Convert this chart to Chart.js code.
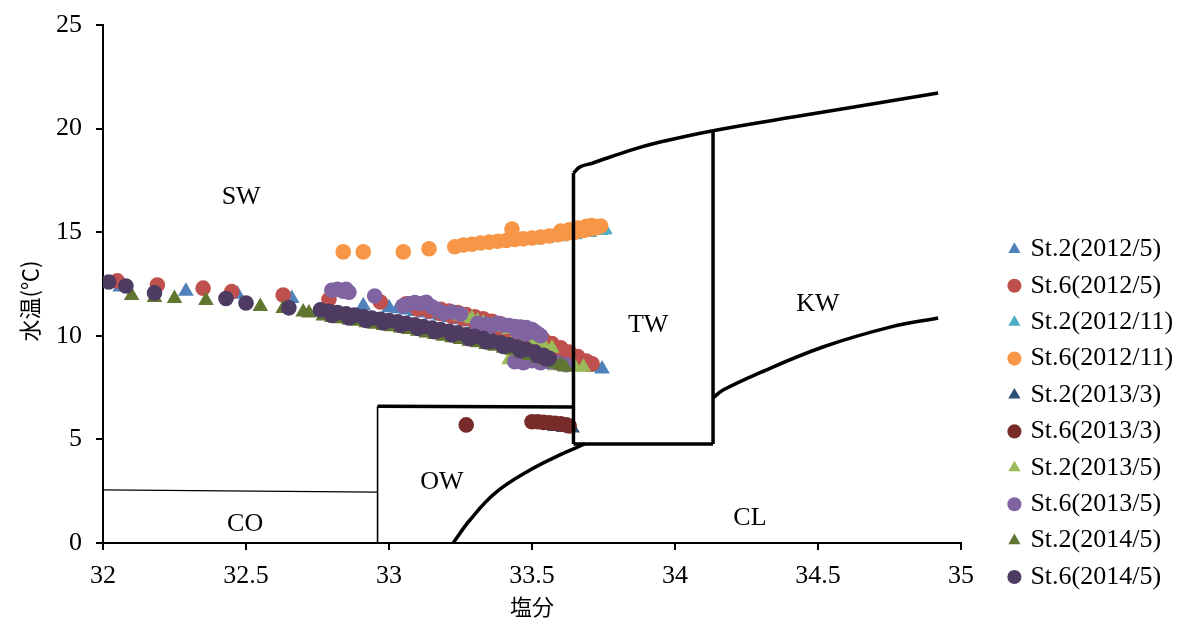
<!DOCTYPE html>
<html>
<head>
<meta charset="utf-8">
<script src="https://cdn.jsdelivr.net/npm/chart.js@4.4.1/dist/chart.umd.min.js"></script>
<style>
  html, body { margin: 0; padding: 0; background: #ffffff; }
  #wrap { width: 1188px; height: 626px; }
</style>
</head>
<body>
<div id="wrap"><canvas id="c" width="1188" height="626"></canvas></div>
<script>
// ---- Series (salinity / water temperature) ----
const seriesNames = [
  'St.2(2012/5)', 'St.6(2012/5)', 'St.2(2012/11)', 'St.6(2012/11)', 'St.2(2013/3)',
  'St.6(2013/3)', 'St.2(2013/5)', 'St.6(2013/5)', 'St.2(2014/5)', 'St.6(2014/5)'
];
const seriesColors = [
  '#4F81BD', '#C0504D', '#4BACC6', '#F79646', '#2C4D75',
  '#772C2A', '#9BBB59', '#8064A2', '#5F7530', '#4D3B62'
];
const seriesShapes = [
  'triangle', 'circle', 'triangle', 'circle', 'triangle',
  'circle', 'triangle', 'circle', 'triangle', 'circle'
];

const st2_2012_5_sal  = [32.06, 32.29, 32.47, 32.66, 32.91, 33.00, 33.03, 33.06, 33.09, 33.12, 33.15, 33.18, 33.21, 33.24, 33.27, 33.30, 33.33, 33.36, 33.39, 33.42, 33.45, 33.48, 33.51, 33.54, 33.57, 33.60, 33.63, 33.66, 33.69, 33.72, 33.745];
const st2_2012_5_temp = [12.35, 12.15, 12.00, 11.80, 11.45, 11.35, 11.30, 11.24, 11.17, 11.10, 11.02, 10.95, 10.87, 10.78, 10.68, 10.58, 10.46, 10.34, 10.20, 10.05, 9.90, 9.74, 9.57, 9.40, 9.22, 9.04, 8.88, 8.74, 8.60, 8.48, 8.40];

const st6_2012_5_sal  = [32.05, 32.19, 32.35, 32.45, 32.63, 32.79, 32.97,
                         33.06, 33.09, 33.12, 33.15, 33.18, 33.21, 33.24, 33.27, 33.30, 33.33, 33.36, 33.39, 33.42, 33.45, 33.48, 33.51, 33.54, 33.57, 33.60, 33.63, 33.66, 33.69, 33.71,
                         33.10, 33.14, 33.18, 33.22, 33.26, 33.30, 33.34, 33.38, 33.42, 33.46, 33.50, 33.54, 33.58, 33.62, 33.66, 33.70];
const st6_2012_5_temp = [12.65, 12.45, 12.30, 12.13, 11.97, 11.75, 11.63,
                         11.55, 11.50, 11.42, 11.35, 11.28, 11.20, 11.12, 11.02, 10.92, 10.82, 10.70, 10.58, 10.45, 10.30, 10.15, 10.00, 9.82, 9.62, 9.42, 9.22, 9.00, 8.78, 8.65,
                         11.30, 11.20, 11.08, 10.95, 10.82, 10.68, 10.52, 10.35, 10.18, 9.98, 9.78, 9.55, 9.30, 9.05, 8.82, 8.62];

const st2_2012_11_sal  = [33.45, 33.50, 33.55, 33.60, 33.65, 33.70, 33.74, 33.755];
const st2_2012_11_temp = [14.55, 14.62, 14.70, 14.78, 14.88, 14.98, 15.08, 15.12];

const st6_2012_11_sal  = [32.84, 32.91, 33.05, 33.14, 33.23, 33.26, 33.29, 33.32, 33.35, 33.38, 33.41, 33.43, 33.44, 33.47, 33.50, 33.53, 33.56, 33.59, 33.62, 33.65, 33.68, 33.70, 33.72, 33.73,
                          33.60, 33.63, 33.66, 33.69, 33.71, 33.74];
const st6_2012_11_temp = [14.05, 14.05, 14.05, 14.20, 14.30, 14.38, 14.42, 14.48, 14.52, 14.56, 14.60, 15.15, 14.65, 14.68, 14.72, 14.76, 14.82, 14.88, 14.94, 15.00, 15.08, 15.15, 15.20, 15.25,
                          15.05, 15.12, 15.20, 15.28, 15.32, 15.30];

const st2_2013_3_sal  = [33.58, 33.61, 33.64];
const st2_2013_3_temp = [5.62, 5.58, 5.55];

const st6_2013_3_sal  = [33.27, 33.50, 33.52, 33.54, 33.56, 33.58, 33.60, 33.62, 33.63];
const st6_2013_3_temp = [5.70, 5.85, 5.85, 5.82, 5.80, 5.78, 5.75, 5.70, 5.65];

const st2_2013_5_sal  = [33.25, 33.27, 33.29, 33.31, 33.33, 33.36, 33.39, 33.42, 33.45, 33.48, 33.51, 33.54, 33.57,
                         33.42, 33.46, 33.50, 33.54, 33.58, 33.62, 33.65, 33.68];
const st2_2013_5_temp = [10.95, 10.90, 10.82, 10.72, 10.62, 10.50, 10.42, 10.30, 10.15, 9.98, 9.80, 9.60, 9.40,
                         8.85, 8.75, 8.70, 8.62, 8.55, 8.52, 8.50, 8.48];

const st6_2013_5_sal  = [32.80, 32.82, 32.84, 32.85, 32.86, 32.95, 33.05, 33.07, 33.09, 33.11, 33.13, 33.15, 33.17, 33.19,
                         33.22, 33.25, 33.31, 33.34, 33.36, 33.38, 33.40, 33.42, 33.44, 33.46, 33.48, 33.50, 33.51, 33.52, 33.53, 33.45, 33.48,
                         33.44, 33.47, 33.50, 33.53, 33.56, 33.59, 33.62];
const st6_2013_5_temp = [12.20, 12.25, 12.15, 12.25, 12.10, 11.92, 11.45, 11.55, 11.60, 11.55, 11.62, 11.40, 11.25, 11.10,
                         11.15, 11.05, 10.60, 10.55, 10.50, 10.60, 10.52, 10.50, 10.45, 10.42, 10.40, 10.30, 10.20, 10.10, 10.00, 10.20, 10.10,
                         8.75, 8.70, 8.80, 8.70, 8.75, 8.70, 8.60];

const st2_2014_5_sal  = [32.10, 32.18, 32.25, 32.36, 32.55, 32.63, 32.70, 32.72,
                         32.77, 32.80, 32.83, 32.86, 32.89, 32.92, 32.95, 32.98, 33.01, 33.04, 33.07, 33.10, 33.13, 33.16, 33.19, 33.22, 33.25, 33.28, 33.31, 33.34, 33.37, 33.40, 33.43, 33.46, 33.49, 33.52, 33.55, 33.58, 33.60, 33.615];
const st2_2014_5_temp = [11.95, 11.85, 11.80, 11.70, 11.42, 11.32, 11.15, 11.10,
                         10.95, 10.88, 10.82, 10.76, 10.70, 10.63, 10.56, 10.50, 10.44, 10.38, 10.30, 10.22, 10.14, 10.06, 9.98, 9.90, 9.82, 9.74, 9.66, 9.58, 9.50, 9.40, 9.30, 9.18, 9.05, 8.92, 8.80, 8.68, 8.58, 8.50];

const st6_2014_5_sal  = [32.02, 32.08, 32.18, 32.43, 32.50, 32.65,
                         32.76, 32.79, 32.82, 32.85, 32.88, 32.91, 32.94, 32.97, 33.00, 33.03, 33.06, 33.09, 33.12, 33.15, 33.18, 33.21, 33.24, 33.27, 33.30, 33.33, 33.36, 33.39, 33.42, 33.45, 33.48, 33.51, 33.54, 33.56,
                         32.80, 32.86, 32.92, 32.98, 33.04, 33.10, 33.16, 33.22, 33.28, 33.34, 33.40, 33.46, 33.52, 33.55];
const st6_2014_5_temp = [12.60, 12.40, 12.07, 11.80, 11.58, 11.35,
                         11.25, 11.18, 11.12, 11.06, 11.00, 10.93, 10.86, 10.80, 10.74, 10.68, 10.60, 10.53, 10.45, 10.38, 10.30, 10.22, 10.14, 10.05, 9.97, 9.88, 9.75, 9.66, 9.56, 9.46, 9.35, 9.22, 9.06, 8.92,
                         10.98, 10.86, 10.74, 10.62, 10.50, 10.36, 10.20, 10.04, 9.86, 9.70, 9.48, 9.28, 9.04, 8.88];

const seriesSal  = [st2_2012_5_sal, st6_2012_5_sal, st2_2012_11_sal, st6_2012_11_sal, st2_2013_3_sal,
                    st6_2013_3_sal, st2_2013_5_sal, st6_2013_5_sal, st2_2014_5_sal, st6_2014_5_sal];
const seriesTemp = [st2_2012_5_temp, st6_2012_5_temp, st2_2012_11_temp, st6_2012_11_temp, st2_2013_3_temp,
                    st6_2013_3_temp, st2_2013_5_temp, st6_2013_5_temp, st2_2014_5_temp, st6_2014_5_temp];

// ---- Water-mass boundaries ----
const coLineSal = [32.00, 32.96];          const coLineTemp = [2.56, 2.46];
const owLeftSal = [32.96, 32.96];          const owLeftTemp = [0, 6.60];
const owTopSal  = [32.96, 33.645];         const owTopTemp  = [6.60, 6.56];
const twLeftSal = [33.645, 33.645];        const twLeftTemp = [4.78, 17.86];
const twRightSal = [34.133, 34.133];       const twRightTemp = [4.78, 19.90];
const twBottomSal = [33.645, 34.133];      const twBottomTemp = [4.78, 4.78];
const twTopSal  = [33.645, 33.668, 33.713, 33.843, 33.948, 34.133, 34.413, 34.647, 34.920];
const twTopTemp = [17.86, 18.15, 18.34, 18.95, 19.35, 19.90, 20.56, 21.09, 21.72];
const clCurveSal  = [33.224, 33.283, 33.371, 33.493, 33.605, 33.685];
const clCurveTemp = [0.00, 1.11, 2.41, 3.52, 4.30, 4.78];
const kwCurveSal  = [34.133, 34.168, 34.287, 34.517, 34.752, 34.920];
const kwCurveTemp = [7.00, 7.38, 8.16, 9.46, 10.42, 10.86];

// ---- Water-mass names ----
const regionNames = ['SW', 'TW', 'KW', 'OW', 'CO', 'CL'];
const regionSal   = [32.483, 33.906, 34.500, 33.185, 32.497, 34.262];
const regionTemp  = [16.70, 10.52, 11.53, 2.94, 0.92, 1.20];

// ---- Axes ----
const xMin = 32, xMax = 35, xStep = 0.5;
const yMin = 0, yMax = 25, yStep = 5;
const xTitle = '塩分';
const yTitle = '水温(℃)';

const zip = (xs, ys) => xs.map((x, i) => ({ x: x, y: ys[i] }));

const datasets = seriesNames.map((name, i) => ({
  label: name,
  data: zip(seriesSal[i], seriesTemp[i]),
  backgroundColor: seriesColors[i],
  borderColor: seriesColors[i],
  borderWidth: 0,
  pointStyle: seriesShapes[i],
  pointRadius: seriesShapes[i] === 'triangle' ? 9 : 7.8,
  pointHoverRadius: seriesShapes[i] === 'triangle' ? 9 : 7.8,
  order: seriesNames.length - i
}));

function boundary(xs, ys, width, tension) {
  return {
    label: '',
    data: zip(xs, ys),
    showLine: true,
    borderColor: '#000000',
    backgroundColor: '#000000',
    borderWidth: width,
    pointRadius: 0,
    pointHoverRadius: 0,
    fill: false,
    tension: tension,
    borderCapStyle: 'butt',
    borderJoinStyle: 'round',
    order: 0,
    isBoundary: true
  };
}

datasets.push(
  boundary(coLineSal, coLineTemp, 1.3, 0),
  boundary(owLeftSal, owLeftTemp, 1.6, 0),
  boundary(owTopSal, owTopTemp, 3.5, 0),
  boundary(twLeftSal, twLeftTemp, 3.5, 0),
  boundary(twRightSal, twRightTemp, 3.5, 0),
  boundary(twBottomSal, twBottomTemp, 3.5, 0),
  boundary(twTopSal, twTopTemp, 3.5, 0.4),
  boundary(clCurveSal, clCurveTemp, 3.5, 0.4),
  boundary(kwCurveSal, kwCurveTemp, 3.5, 0.4)
);

const serif = "'Liberation Serif', 'Times New Roman', serif";
const cjk = "'Noto Sans CJK JP', 'Noto Sans CJK SC', sans-serif";

// Water-mass names at their salinity / temperature position, plus the temperature axis title
const regionLabelPlugin = {
  id: 'regionLabels',
  afterDatasetsDraw(chart) {
    const { ctx, chartArea, scales: { x, y } } = chart;
    ctx.save();
    ctx.font = '26px ' + serif;
    ctx.fillStyle = '#000000';
    ctx.textAlign = 'center';
    ctx.textBaseline = 'middle';
    regionNames.forEach((t, i) => {
      ctx.fillText(t, x.getPixelForValue(regionSal[i]), y.getPixelForValue(regionTemp[i]));
    });
    // temperature axis title, read bottom-to-top
    ctx.font = '22px ' + cjk;
    ctx.translate(chartArea.left - 73, (chartArea.top + chartArea.bottom) / 2 + 17);
    ctx.rotate(-Math.PI / 2);
    ctx.fillText(yTitle, 0, 0);
    ctx.restore();
  }
};

// Legend block sits lower-right, beside the plot
const legendLeft = 1001;
const legendTop = 226;
const legendPlacePlugin = {
  id: 'legendPlace',
  afterLayout(chart) {
    const lg = chart.legend;
    if (!lg) return;
    const dx = legendLeft - lg.left;
    const dy = legendTop - lg.top;
    lg.left += dx; lg.right += dx;
    lg.top += dy; lg.bottom += dy;
  }
};

new Chart(document.getElementById('c'), {
  type: 'scatter',
  data: { datasets: datasets },
  plugins: [regionLabelPlugin, legendPlacePlugin],
  options: {
    responsive: false,
    devicePixelRatio: 1,
    animation: false,
    layout: { padding: 0 },
    plugins: {
      tooltip: { enabled: false },
      legend: {
        position: 'right',
        align: 'start',
        labels: {
          usePointStyle: true,
          boxWidth: 6,
          boxHeight: 10,
          padding: 10.4,
          color: '#000000',
          font: { family: serif, size: 26 },
          filter: (item, data) => !data.datasets[item.datasetIndex].isBoundary,
          sort: (a, b) => a.datasetIndex - b.datasetIndex
        }
      }
    },
    scales: {
      x: {
        type: 'linear',
        min: xMin, max: xMax,
        afterFit(s) { s.height = 83; s.paddingRight = 227; },
        ticks: {
          stepSize: xStep,
          color: '#000000',
          font: { family: serif, size: 26 },
          padding: 11,
          maxRotation: 0,
          callback: (v) => String(v)
        },
        grid: { display: true, drawOnChartArea: false, drawTicks: true, tickLength: 7, color: '#000000', lineWidth: 2 },
        border: { display: true, color: '#000000', width: 2 },
        title: {
          display: true, text: xTitle, color: '#000000',
          font: { family: cjk, size: 22 },
          padding: { top: 0, bottom: 6 }
        }
      },
      y: {
        type: 'linear',
        min: yMin, max: yMax,
        afterFit(s) { s.width = 103; s.paddingTop = 25; },
        ticks: {
          stepSize: yStep,
          color: '#000000',
          font: { family: serif, size: 26 },
          padding: 14
        },
        grid: { display: true, drawOnChartArea: false, drawTicks: true, tickLength: 7, color: '#000000', lineWidth: 2 },
        border: { display: true, color: '#000000', width: 2 },
        title: { display: false, text: yTitle }
      }
    }
  }
});
</script>
</body>
</html>
